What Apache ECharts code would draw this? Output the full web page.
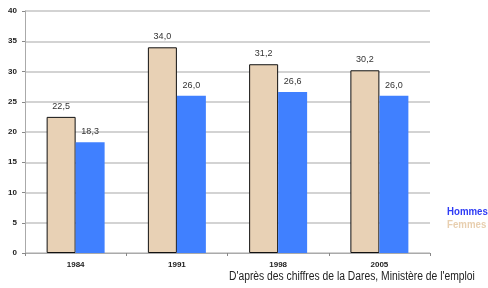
<!DOCTYPE html>
<html>
<head>
<meta charset="utf-8">
<script src="https://cdn.jsdelivr.net/npm/echarts@6/dist/echarts.min.js"></script>
<style>
  html, body { margin: 0; padding: 0; background: #fff; }
  #chart { width: 488px; height: 288px; }
</style>
</head>
<body>
<div id="chart"></div>
<script>
const years = ['1984', '1991', '1998', '2005'];
const femmes = [22.5, 34.0, 31.2, 30.2];
const hommes = [18.3, 26.0, 26.6, 26.0];
const source = "D'après des chiffres de la Dares, Ministère de l'emploi";

const chart = echarts.init(document.getElementById('chart'));

const fmt = p => p.value.toFixed(1).replace('.', ',');
const font = 'Liberation Sans, Arial, sans-serif';

const option = {
  animation: false,
  textStyle: { fontFamily: font },
  grid: { left: 25, right: 58, top: 11, bottom: 35 },
  graphic: [
    {
      type: 'text',
      x: 447,
      y: 206,
      scaleX: 0.88,
      style: { text: 'Hommes', fontSize: 11, fontWeight: 'bold', fill: '#2f3cf5', fontFamily: font }
    },
    {
      type: 'text',
      x: 447,
      y: 219,
      scaleX: 0.88,
      style: { text: 'Femmes', fontSize: 11, fontWeight: 'bold', fill: '#e8cfb0', fontFamily: font }
    },
    {
      type: 'text',
      x: 229,
      y: 271,
      scaleX: 0.86,
      style: { text: source, fontSize: 12, fill: '#222', fontFamily: font }
    }
  ],
  xAxis: {
    type: 'category',
    data: years,
    axisLine: { lineStyle: { color: '#aaa', width: 1 } },
    axisTick: { show: true, length: 3, lineStyle: { color: '#888' } },
    axisLabel: { fontSize: 8, fontWeight: 'bold', color: '#222', margin: 8 }
  },
  yAxis: {
    type: 'value',
    min: 0,
    max: 40,
    interval: 5,
    axisLine: { show: true, lineStyle: { color: '#aaa', width: 1 } },
    axisTick: { show: true, length: 3, lineStyle: { color: '#888' } },
    axisLabel: { fontSize: 8, fontWeight: 'bold', color: '#222', margin: 8 },
    splitLine: { lineStyle: { color: '#c4c4c4', width: 1.5 } }
  },
  series: [
    {
      name: 'Femmes',
      type: 'bar',
      data: femmes,
      barWidth: 29,
      barGap: '0%',
      itemStyle: { color: '#e8d1b5', borderColor: '#111', borderWidth: 1 },
      label: { show: true, position: 'top', fontSize: 9, color: '#333', formatter: fmt, distance: 6 }
    },
    {
      name: 'Hommes',
      type: 'bar',
      data: hommes,
      barWidth: 29,
      barGap: '0%',
      itemStyle: { color: '#4080ff' },
      label: { show: true, position: 'top', fontSize: 9, color: '#333', formatter: fmt, distance: 6 }
    }
  ]
};

chart.setOption(option);
</script>
</body>
</html>
